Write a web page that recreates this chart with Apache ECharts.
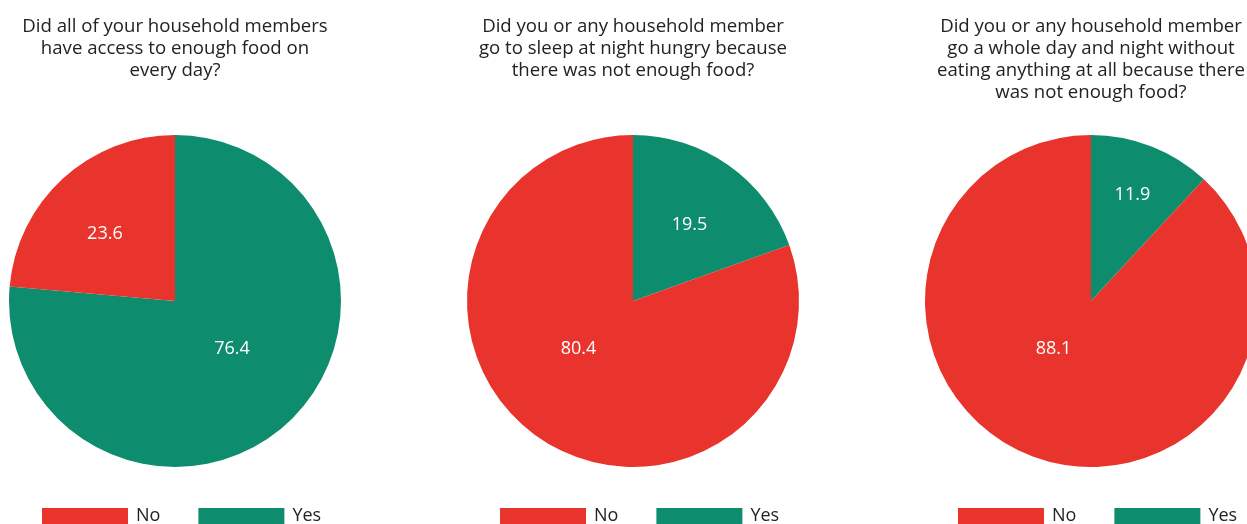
<!DOCTYPE html>
<html>
<head>
<meta charset="utf-8">
<script src="https://cdn.jsdelivr.net/npm/echarts@6/dist/echarts.min.js"></script>
<style>
  html, body { margin: 0; padding: 0; background: #fff; }
  #chart { width: 1247px; height: 524px; }
</style>
</head>
<body>
<div id="chart"></div>
<script>
// questions shown over each pie
const questions = [
  'Did all of your household members\nhave access to enough food on\nevery day?',
  'Did you or any household member\ngo to sleep at night hungry because\nthere was not enough food?',
  'Did you or any household member\ngo a whole day and night without\neating anything at all because there\nwas not enough food?'
]
const answers = ['Yes', 'No']
const yesValues = [76.4, 19.5, 11.9]
const noValues = [23.6, 80.4, 88.1]

const colors = { Yes: '#0e8c6e', No: '#e8342d' }
const font = '"Open Sans", "Noto Sans", sans-serif'
const centers = [175, 633, 1091]
// small nudges so the value labels sit where the original tool put them
const labelNudge = [
  { Yes: [-1, -16], No: [-12, -4] },
  { Yes: [7, -6], No: [-5, -22] },
  { Yes: [10, -26], No: [-6, -32] }
]

const chart = echarts.init(document.getElementById('chart'))

chart.setOption({
  animation: false,
  title: questions.map((q, i) => ({
    text: q,
    left: centers[i],
    top: 16,
    padding: 0,
    textAlign: 'center',
    textStyle: {
      fontFamily: font,
      fontWeight: 'normal',
      fontSize: 18.6,
      lineHeight: 22,
      color: '#222'
    }
  })),
  legend: centers.map((c, i) => ({
    data: ['No', 'Yes'],
    left: c - 133,
    top: 507,
    padding: 0,
    itemWidth: 86,
    itemHeight: 16,
    itemGap: 38,
    icon: 'rect',
    selectedMode: false,
    seriesIndex: [i],
    textStyle: {
      fontFamily: font,
      fontSize: 18,
      color: '#222',
      padding: [0, 0, 0, 3]
    }
  })),
  series: centers.map((c, i) => ({
    type: 'pie',
    center: [c, 301],
    radius: 166,
    startAngle: 90,
    clockwise: true,
    silent: true,
    label: {
      show: true,
      position: 'inside',
      formatter: '{c}',
      color: '#fff',
      fontFamily: font,
      fontSize: 18
    },
    labelLine: { show: false },
    itemStyle: { borderWidth: 0 },
    data: answers.map(a => ({
      name: a,
      value: a === 'Yes' ? yesValues[i] : noValues[i],
      itemStyle: { color: colors[a] },
      label: { offset: labelNudge[i][a] }
    }))
  }))
})
</script>
</body>
</html>
